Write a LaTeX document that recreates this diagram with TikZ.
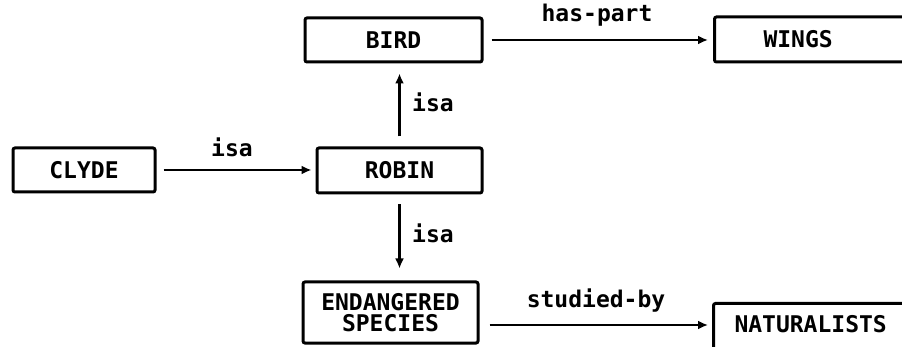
\documentclass[tikz,border=0pt]{standalone}
\usepackage{fontspec}
\setmonofont{DejaVu Sans Mono}
\usetikzlibrary{arrows.meta}
\begin{document}
\begin{tikzpicture}[x=1pt,y=-1pt,
  box/.style={draw, line width=3pt, rounded corners=2pt, inner sep=0pt,
    font=\fontsize{23}{21}\selectfont\ttfamily\bfseries, align=center},
  lbl/.style={font=\fontsize{23}{21}\selectfont\ttfamily\bfseries, inner sep=0pt, anchor=base},
  arr/.style={line width=2.6pt, -{Latex[length=10pt,width=9pt]}}]
\useasboundingbox (0,0) rectangle (902,347);
\fill[white] (0,0) rectangle (902,347);
\clip (0,0) rectangle (902,347);

\node[box, minimum width=142pt, minimum height=44pt] (clyde) at (84,170) {CLYDE};
\node[box, minimum width=165pt, minimum height=45pt] (robin) at (399.5,170.5) {ROBIN};
\node[box, minimum width=177pt, minimum height=44pt] (bird) at (393.5,40) {BIRD};
\node[box, anchor=west, minimum height=45pt, text width=200pt, align=left, inner xsep=49pt] (wings) at (713,39.5) {WINGS};
\node[box, minimum width=175pt, minimum height=61pt] (endang) at (390.5,312.5) {ENDANGERED\\SPECIES};
\node[box, anchor=north west, text width=200pt, align=left, inner xsep=21pt, inner ysep=12pt, text height=17pt, text depth=40pt] (natur) at (712,302) {NATURALISTS};

\draw[arr, shorten <=7pt, shorten >=4pt] (clyde.east) -- (robin.west |- clyde.east);
\node[lbl] (l1) at (232,157) {isa};

\draw[arr, shorten <=10pt, shorten >=10pt] (robin.north) -- (robin.north |- bird.south);
\node[lbl, anchor=base west] (l2) at (412,112) {isa};

\draw[arr, shorten <=10pt, shorten >=12pt] (robin.south) -- (robin.south |- endang.north);
\node[lbl, anchor=base west] (l3) at (412,243) {isa};

\draw[arr, shorten <=8pt, shorten >=5pt] (bird.east) -- (bird.east -| wings.west);
\node[lbl] (l4) at (597,22) {has-part};

\draw[arr, shorten <=10pt, shorten >=4pt] ([yshift=-12.5pt]endang.east) -- ([yshift=-12.5pt]endang.east -| natur.west);
\node[lbl] (l5) at (596,308) {studied-by};
\end{tikzpicture}
\end{document}
